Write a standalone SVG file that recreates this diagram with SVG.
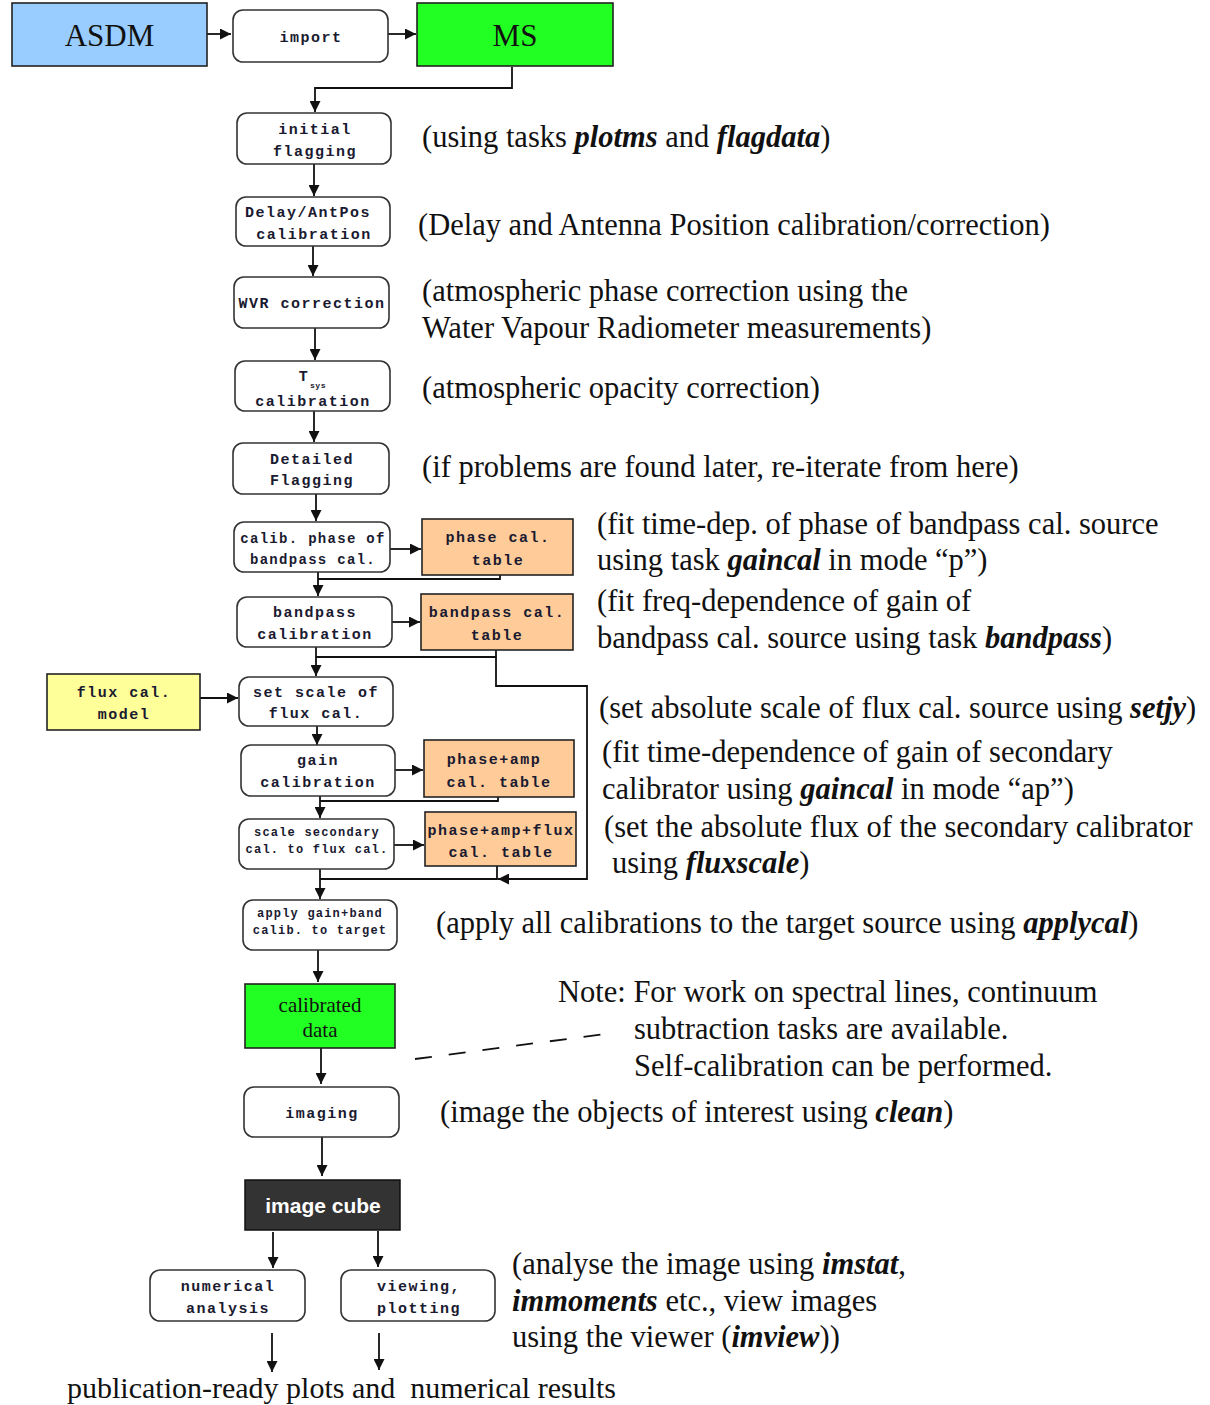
<svg xmlns="http://www.w3.org/2000/svg" width="1210" height="1405" viewBox="0 0 1210 1405">
  <style>
    .task { fill: #ffffff; stroke: #333; stroke-width: 1.6; }
    .data { stroke: #222; stroke-width: 1.6; }
    .mono { font-family: "Liberation Mono", "DejaVu Sans Mono", monospace; font-weight: bold; font-size: 15px; letter-spacing: 1.5px; fill: #1a1a30; text-anchor: middle; }
    .mono14 { font-size: 14px; letter-spacing: 1.3px; }
    .mono12 { font-size: 12px; letter-spacing: 1.2px; }
    .big { font-family: "Liberation Serif", "Times New Roman", serif; font-size: 31px; fill: #111; text-anchor: middle; }
    .note { font-family: "Liberation Serif", "Times New Roman", serif; font-size: 30.5px; fill: #111; }
    .tsk { font-style: italic; font-weight: bold; }
    .conn { fill: none; stroke: #111; stroke-width: 1.8; }
  </style>
  <defs>
    <marker id="ah" viewBox="0 0 10 10" refX="10" refY="5" markerWidth="12" markerHeight="11" markerUnits="userSpaceOnUse" orient="auto">
      <path d="M0,0 L10,5 L0,10 z" fill="#111"/>
    </marker>
  </defs>

  <rect width="1210" height="1405" fill="#ffffff"/>

  <!-- connectors -->
  <g id="connectors">
    <line class="conn" x1="207" y1="34" x2="231" y2="34" marker-end="url(#ah)"/>
    <line class="conn" x1="388" y1="34" x2="416" y2="34" marker-end="url(#ah)"/>
    <polyline class="conn" points="512,67 512,88 315,88 315,112" marker-end="url(#ah)"/>
    <line class="conn" x1="314" y1="164" x2="314" y2="196" marker-end="url(#ah)"/>
    <line class="conn" x1="313" y1="246" x2="313" y2="276" marker-end="url(#ah)"/>
    <line class="conn" x1="315" y1="328" x2="315" y2="360" marker-end="url(#ah)"/>
    <line class="conn" x1="314" y1="411" x2="314" y2="442" marker-end="url(#ah)"/>
    <line class="conn" x1="316" y1="494" x2="316" y2="521" marker-end="url(#ah)"/>
    <line class="conn" x1="390" y1="549" x2="421" y2="549" marker-end="url(#ah)"/>
    <polyline class="conn" points="500,575 500,579 318,579"/>
    <line class="conn" x1="318" y1="572" x2="318" y2="596" marker-end="url(#ah)"/>
    <line class="conn" x1="392" y1="622" x2="420" y2="622" marker-end="url(#ah)"/>
    <polyline class="conn" points="496,650 496,657 316,657"/>
    <line class="conn" x1="316" y1="647" x2="316" y2="676" marker-end="url(#ah)"/>
    <polyline class="conn" points="496,657 496,686 587,686 587,879 498,879" marker-end="url(#ah)"/>
    <line class="conn" x1="200" y1="698" x2="238" y2="698" marker-end="url(#ah)"/>
    <line class="conn" x1="317" y1="726" x2="317" y2="745" marker-end="url(#ah)"/>
    <line class="conn" x1="395" y1="770" x2="423" y2="770" marker-end="url(#ah)"/>
    <polyline class="conn" points="498,797 498,801 320,801"/>
    <line class="conn" x1="320" y1="796" x2="320" y2="818" marker-end="url(#ah)"/>
    <line class="conn" x1="394" y1="845" x2="424" y2="845" marker-end="url(#ah)"/>
    <polyline class="conn" points="497,866 497,879 320,879"/>
    <line class="conn" x1="320" y1="869" x2="320" y2="899" marker-end="url(#ah)"/>
    <line class="conn" x1="318" y1="950" x2="318" y2="982" marker-end="url(#ah)"/>
    <line class="conn" x1="321" y1="1048" x2="321" y2="1084" marker-end="url(#ah)"/>
    <line class="conn" x1="322" y1="1137" x2="322" y2="1176" marker-end="url(#ah)"/>
    <line class="conn" x1="273" y1="1232" x2="273" y2="1268" marker-end="url(#ah)"/>
    <line class="conn" x1="378" y1="1231" x2="378" y2="1267" marker-end="url(#ah)"/>
    <line class="conn" x1="272" y1="1333" x2="272" y2="1372" marker-end="url(#ah)"/>
    <line class="conn" x1="379" y1="1333" x2="379" y2="1370" marker-end="url(#ah)"/>
    <line class="conn" x1="415" y1="1059" x2="605" y2="1034" stroke-dasharray="17,17"/>
  </g>

  <!-- data products -->
  <g id="asdm">
    <rect class="data" x="12" y="3" width="195" height="63" fill="#99ccff"/>
    <text class="big" x="109.5" y="46">ASDM</text>
  </g>
  <g id="ms">
    <rect class="data" x="417" y="3" width="196" height="63" fill="#22ff22"/>
    <text class="big" x="515" y="46">MS</text>
  </g>

  <!-- tasks -->
  <g id="import">
    <rect class="task" x="233" y="10" width="155" height="52" rx="10"/>
    <text class="mono" x="311" y="42">import</text>
  </g>
  <g id="initial-flagging">
    <rect class="task" x="237" y="113" width="154" height="51" rx="10"/>
    <text class="mono" x="315" y="134">initial</text>
    <text class="mono" x="315" y="156">flagging</text>
  </g>
  <g id="delay-antpos">
    <rect class="task" x="236" y="197" width="154" height="49" rx="10"/>
    <text class="mono" x="308" y="217">Delay/AntPos</text>
    <text class="mono" x="314" y="239">calibration</text>
  </g>
  <g id="wvr">
    <rect class="task" x="234" y="277" width="155" height="51" rx="10"/>
    <text class="mono" x="312" y="308">WVR correction</text>
  </g>
  <g id="tsys">
    <rect class="task" x="235" y="361" width="155" height="50" rx="10"/>
    <text class="mono" x="304" y="381">T</text>
    <text class="mono" x="318" y="388" style="font-size:8px;letter-spacing:0.5px">sys</text>
    <text class="mono" x="313" y="406">calibration</text>
  </g>
  <g id="detailed-flagging">
    <rect class="task" x="233" y="443" width="156" height="51" rx="10"/>
    <text class="mono" x="312" y="464">Detailed</text>
    <text class="mono" x="312" y="485">Flagging</text>
  </g>
  <g id="calib-phase">
    <rect class="task" x="234" y="522" width="156" height="50" rx="10"/>
    <text class="mono mono14" x="313" y="543">calib. phase of</text>
    <text class="mono mono14" x="313" y="564">bandpass cal.</text>
  </g>
  <g id="phase-table">
    <rect class="data" x="422" y="519" width="151" height="56" fill="#ffcc99"/>
    <text class="mono" x="498" y="542">phase cal.</text>
    <text class="mono" x="498" y="565">table</text>
  </g>
  <g id="bandpass">
    <rect class="task" x="237" y="597" width="155" height="50" rx="10"/>
    <text class="mono" x="315" y="617">bandpass</text>
    <text class="mono" x="315" y="639">calibration</text>
  </g>
  <g id="bandpass-table">
    <rect class="data" x="421" y="594" width="152" height="56" fill="#ffcc99"/>
    <text class="mono" x="497" y="617">bandpass cal.</text>
    <text class="mono" x="497" y="640">table</text>
  </g>
  <g id="flux-model">
    <rect class="data" x="47" y="674" width="153" height="56" fill="#ffff99"/>
    <text class="mono" x="124" y="697">flux cal.</text>
    <text class="mono" x="124" y="719">model</text>
  </g>
  <g id="set-scale">
    <rect class="task" x="239" y="677" width="154" height="49" rx="10"/>
    <text class="mono" x="316" y="697">set scale of</text>
    <text class="mono" x="316" y="718">flux cal.</text>
  </g>
  <g id="gain-cal">
    <rect class="task" x="241" y="745" width="154" height="51" rx="10"/>
    <text class="mono" x="318" y="765">gain</text>
    <text class="mono" x="318" y="787">calibration</text>
  </g>
  <g id="phase-amp-table">
    <rect class="data" x="424" y="740" width="150" height="57" fill="#ffcc99"/>
    <text class="mono" x="494" y="764">phase+amp</text>
    <text class="mono" x="499" y="787">cal. table</text>
  </g>
  <g id="fluxscale">
    <rect class="task" x="239" y="819" width="155" height="50" rx="10"/>
    <text class="mono mono12" x="317" y="836">scale secondary</text>
    <text class="mono mono12" x="317" y="853">cal. to flux cal.</text>
  </g>
  <g id="phase-amp-flux-table">
    <rect class="data" x="425" y="812" width="151" height="54" fill="#ffcc99"/>
    <text class="mono" x="501" y="835">phase+amp+flux</text>
    <text class="mono" x="501" y="857">cal. table</text>
  </g>
  <g id="applycal">
    <rect class="task" x="243" y="900" width="154" height="50" rx="10"/>
    <text class="mono mono12" x="320" y="917">apply gain+band</text>
    <text class="mono mono12" x="320" y="934">calib. to target</text>
  </g>
  <g id="calibrated-data">
    <rect class="data" x="245" y="984" width="150" height="64" fill="#22ff22"/>
    <text class="big" x="320" y="1012" style="font-size:21px">calibrated</text>
    <text class="big" x="320" y="1037" style="font-size:21px">data</text>
  </g>
  <g id="imaging">
    <rect class="task" x="244" y="1087" width="155" height="50" rx="10"/>
    <text class="mono" x="322" y="1118">imaging</text>
  </g>
  <g id="image-cube">
    <rect x="245" y="1180" width="155" height="50" fill="#333333" stroke="#111" stroke-width="1.5"/>
    <text x="323" y="1213" style="font-family:'Liberation Sans',Arial,sans-serif;font-weight:bold;font-size:21px;fill:#ffffff;text-anchor:middle">image cube</text>
  </g>
  <g id="numerical-analysis">
    <rect class="task" x="150" y="1270" width="155" height="51" rx="10"/>
    <text class="mono" x="228" y="1291">numerical</text>
    <text class="mono" x="228" y="1313">analysis</text>
  </g>
  <g id="viewing-plotting">
    <rect class="task" x="341" y="1270" width="154" height="51" rx="10"/>
    <text class="mono" x="419" y="1291">viewing,</text>
    <text class="mono" x="419" y="1313">plotting</text>
  </g>

  <!-- annotations -->
  <g id="annotations">
    <text class="note" x="422" y="147">(using tasks <tspan class="tsk">plotms</tspan> and <tspan class="tsk">flagdata</tspan>)</text>
    <text class="note" x="418" y="235">(Delay and Antenna Position calibration/correction)</text>
    <text class="note" x="422" y="301">(atmospheric phase correction using the</text>
    <text class="note" x="422" y="338">Water Vapour Radiometer measurements)</text>
    <text class="note" x="422" y="398">(atmospheric opacity correction)</text>
    <text class="note" x="422" y="477">(if problems are found later, re-iterate from here)</text>
    <text class="note" x="597" y="534">(fit time-dep. of phase of bandpass cal. source</text>
    <text class="note" x="597" y="570">using task <tspan class="tsk">gaincal</tspan> in mode “p”)</text>
    <text class="note" x="597" y="611">(fit freq-dependence of gain of</text>
    <text class="note" x="597" y="648">bandpass cal. source using task <tspan class="tsk">bandpass</tspan>)</text>
    <text class="note" x="599" y="718">(set absolute scale of flux cal. source using <tspan class="tsk">setjy</tspan>)</text>
    <text class="note" x="602" y="762">(fit time-dependence of gain of secondary</text>
    <text class="note" x="602" y="799">calibrator using <tspan class="tsk">gaincal</tspan> in mode “ap”)</text>
    <text class="note" x="604" y="837">(set the absolute flux of the secondary calibrator</text>
    <text class="note" x="612" y="873">using <tspan class="tsk">fluxscale</tspan>)</text>
    <text class="note" x="436" y="933">(apply all calibrations to the target source using <tspan class="tsk">applycal</tspan>)</text>
    <text class="note" x="558" y="1002">Note: For work on spectral lines, continuum</text>
    <text class="note" x="634" y="1039">subtraction tasks are available.</text>
    <text class="note" x="634" y="1076">Self-calibration can be performed.</text>
    <text class="note" x="440" y="1122">(image the objects of interest using <tspan class="tsk">clean</tspan>)</text>
    <text class="note" x="512" y="1274">(analyse the image using <tspan class="tsk">imstat</tspan>,</text>
    <text class="note" x="512" y="1311"><tspan class="tsk">immoments</tspan> etc., view images</text>
    <text class="note" x="512" y="1347">using the viewer (<tspan class="tsk">imview</tspan>))</text>
    <text class="note" x="67" y="1398" style="font-size:30px" xml:space="preserve">publication-ready plots and  numerical results</text>
  </g>
</svg>
